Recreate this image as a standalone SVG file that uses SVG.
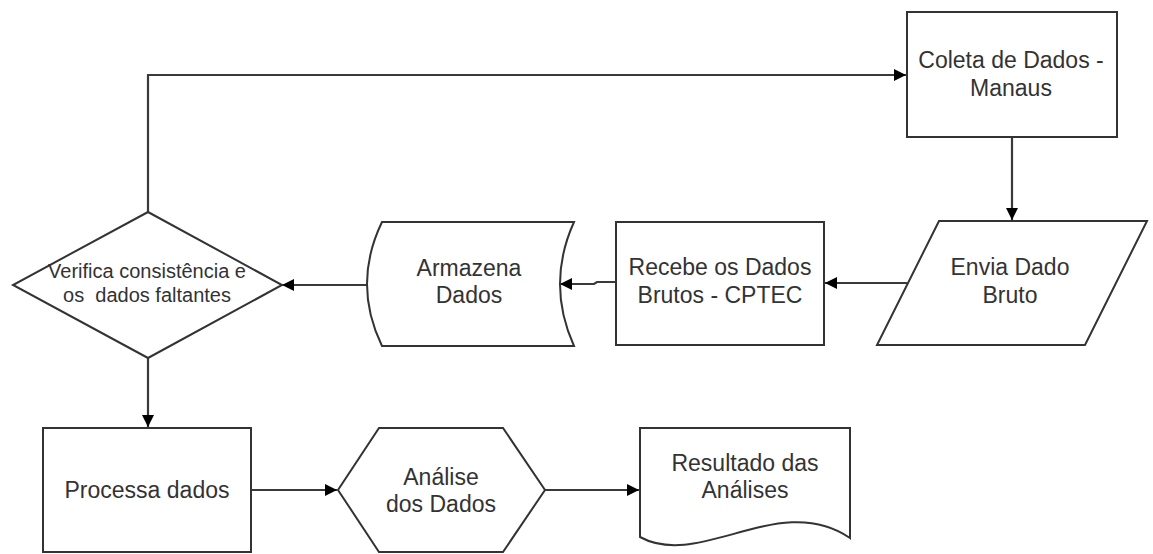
<svg xmlns="http://www.w3.org/2000/svg" width="1153" height="554" viewBox="0 0 1153 554">
<style>
.shape{fill:#fff;stroke:#333;stroke-width:2}
.lbl{font-family:"Liberation Sans",Arial,sans-serif;font-size:23px;fill:#333;text-anchor:middle}
.small{font-size:20px}
.conn{fill:none;stroke:#3a3a3a;stroke-width:2.2}
</style>
<defs>
<marker id="arr" viewBox="0 0 10 10" refX="10" refY="5" markerWidth="12" markerHeight="12" markerUnits="userSpaceOnUse" orient="auto">
<path d="M0 0 L10 5 L0 10 Z" fill="#000"/>
</marker>
</defs>
<rect width="1153" height="554" fill="#fff"/>
<g id="connectors">
<path class="conn" d="M148 212 V75 H906" marker-end="url(#arr)"/>
<path class="conn" d="M1012 137 V220" marker-end="url(#arr)"/>
<path class="conn" d="M907 283 H825" marker-end="url(#arr)"/>
<path class="conn" d="M616 282 H597 L594 284 H560" marker-end="url(#arr)"/>
<path class="conn" d="M367 285 H282" marker-end="url(#arr)"/>
<path class="conn" d="M148 358 V427" marker-end="url(#arr)"/>
<path class="conn" d="M252 490 H337" marker-end="url(#arr)"/>
<path class="conn" d="M545 490 H639" marker-end="url(#arr)"/>
</g>
<g id="coleta">
<rect class="shape" x="907" y="12" width="210" height="125"/>
<text class="lbl" x="1011" y="68">Coleta de Dados -</text>
<text class="lbl" x="1011" y="96">Manaus</text>
</g>
<g id="envia">
<path class="shape" d="M939 221 H1147 L1085 345 H877 Z"/>
<text class="lbl" x="1010" y="275">Envia Dado</text>
<text class="lbl" x="1010" y="303">Bruto</text>
</g>
<g id="recebe">
<rect class="shape" x="616" y="222" width="208" height="123"/>
<text class="lbl" x="720" y="275">Recebe os Dados</text>
<text class="lbl" x="720" y="303">Brutos - CPTEC</text>
</g>
<g id="armazena">
<path class="shape" d="M382 222 H574 Q546 284 574 346 H382 Q352 284 382 222 Z"/>
<text class="lbl" x="469" y="276">Armazena</text>
<text class="lbl" x="469" y="303">Dados</text>
</g>
<g id="verifica">
<path class="shape" d="M148 212 L282 285 L148 358 L13 285 Z"/>
<text class="lbl small" x="147" y="278">Verifica consistência e</text>
<text class="lbl small" x="147" y="302" xml:space="preserve">os  dados faltantes</text>
</g>
<g id="processa">
<rect class="shape" x="43" y="428" width="208" height="124"/>
<text class="lbl" x="147" y="498">Processa dados</text>
</g>
<g id="analise">
<path class="shape" d="M379 428 H503 L545 490 L503 552 H379 L338 490 Z"/>
<text class="lbl" x="441" y="485">Análise</text>
<text class="lbl" x="441" y="512">dos Dados</text>
</g>
<g id="resultado">
<path class="shape" d="M640 428 H850 V538 C780 490 700 570 640 537 Z"/>
<text class="lbl" x="745" y="471">Resultado das</text>
<text class="lbl" x="745" y="498">Análises</text>
</g>
</svg>
